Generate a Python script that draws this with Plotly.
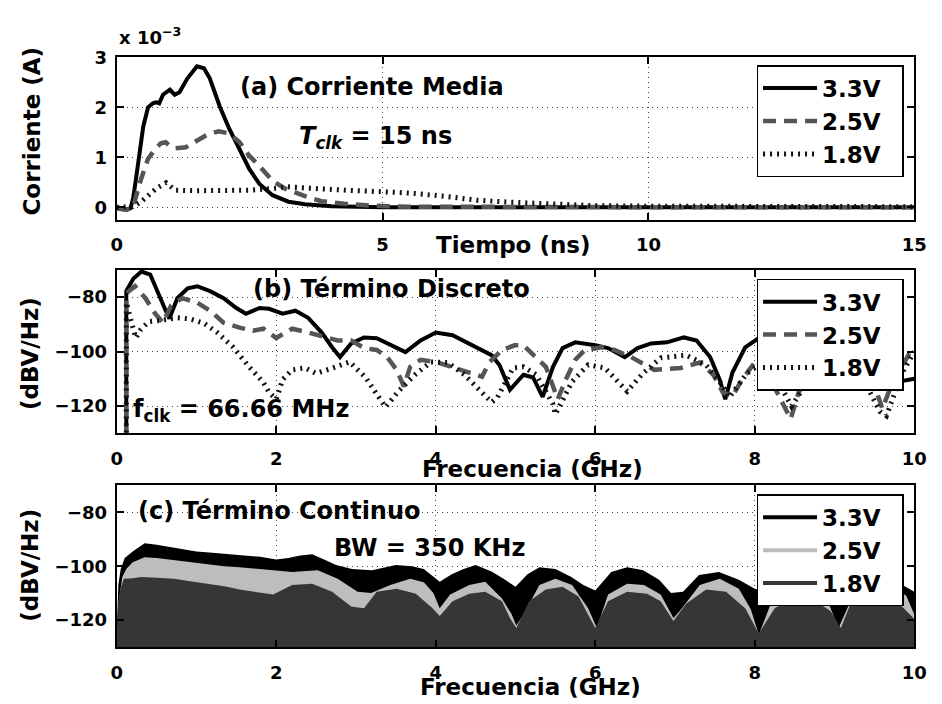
import plotly.graph_objects as go

W, H = 942, 704
FONT = "DejaVu Sans"

# ---------------- (a) Corriente media (x 1e-3 A) vs tiempo (ns)
t_33 = [0, 0.1, 0.2, 0.26, 0.31, 0.36, 0.41, 0.5, 0.59, 0.68, 0.74, 0.8, 0.87, 1.0, 1.09, 1.18, 1.33,
        1.51, 1.64, 1.75, 1.94, 2.12, 2.31, 2.49, 2.68, 2.93, 3.23, 3.54, 4.04, 4.5, 5, 6, 8, 10, 12, 15]
i_33 = [0, -0.03, -0.05, -0.02, 0.18, 0.55, 0.97, 1.62, 2.0, 2.08, 2.1, 2.08, 2.25, 2.35, 2.25, 2.3, 2.58,
        2.82, 2.78, 2.58, 2.01, 1.56, 1.16, 0.77, 0.47, 0.24, 0.11, 0.06, 0.02, 0.01, 0, 0, 0, 0, 0, 0]

t_25 = [0, 0.15, 0.3, 0.37, 0.46, 0.59, 0.72, 0.83, 0.92, 1.0, 1.1, 1.3, 1.5, 1.7, 1.92, 2.1, 2.2, 2.31,
        2.49, 2.68, 2.93, 3.17, 3.54, 3.85, 4.28, 4.78, 5.5, 7, 10, 12, 15]
i_25 = [-0.02, -0.05, -0.02, 0.24, 0.57, 0.97, 1.16, 1.28, 1.3, 1.22, 1.18, 1.2, 1.32, 1.45, 1.52, 1.48,
        1.4, 1.3, 1.03, 0.83, 0.53, 0.37, 0.22, 0.12, 0.07, 0.03, 0.01, 0, 0, 0, 0]

t_18 = [0, 0.3, 0.46, 0.6, 0.75, 0.93, 1.1, 1.5, 2.0, 2.5, 3.0, 3.2, 3.6, 4.0, 4.5, 4.99, 5.54, 6.16,
        6.77, 7.4, 8.0, 8.5, 9, 10, 12, 15]
i_18 = [0, 0.01, 0.11, 0.25, 0.38, 0.49, 0.34, 0.33, 0.33, 0.34, 0.38, 0.41, 0.38, 0.35, 0.33, 0.31,
        0.28, 0.22, 0.14, 0.1, 0.07, 0.05, 0.03, 0.02, 0.01, 0.01]

# ---------------- (b) Termino discreto (dBV/Hz) vs frecuencia (GHz)
fb_33 = [0.12, 0.12, 0.21, 0.31, 0.42, 0.52, 0.6, 0.66, 0.76, 0.89, 1.01, 1.17, 1.34, 1.5, 1.62, 1.79,
         1.91, 2.08, 2.24, 2.4, 2.57, 2.7, 2.8, 2.94, 3.1, 3.26, 3.43, 3.62, 3.81, 4.0, 4.21, 4.42, 4.6,
         4.7, 4.8, 4.93, 5.1, 5.22, 5.34, 5.47, 5.59, 5.75, 6.0, 6.16, 6.37, 6.53, 6.7, 6.9, 7.11, 7.27,
         7.44, 7.56, 7.63, 7.72, 7.88, 8.1, 8.4, 8.7, 9.0, 9.3, 9.55, 9.75, 9.9, 10]
db_33 = [-140, -77.8, -73.2, -70.6, -71.7, -78.9, -84, -87.9, -80.4, -76.8, -76, -77.8, -80.4, -84,
         -86.1, -84, -84.3, -86.1, -85, -87.6, -93, -98.4, -102, -97, -94.8, -95.1, -97.7, -100.2,
         -95.9, -93, -94, -97, -99.5, -101.3, -105, -114, -108.5, -109.5, -116.6, -105.6, -98.7, -96.6,
         -97.7, -98.7, -102, -98.7, -97, -96.6, -94.8, -95.9, -102, -110.3, -117.5, -107.7, -98.4, -94,
         -95, -98, -97, -101, -106, -111, -110.5, -110]

fb_25 = [0.12, 0.12, 0.23, 0.36, 0.48, 0.58, 0.68, 0.82, 1.01, 1.17, 1.34, 1.54, 1.71, 1.84, 2.0, 2.2,
         2.4, 2.61, 2.77, 2.94, 3.1, 3.26, 3.39, 3.51, 3.6, 3.68, 3.81, 4.0, 4.21, 4.42, 4.58, 4.67,
         4.83, 4.99, 5.1, 5.26, 5.38, 5.53, 5.63, 5.75, 5.87, 6.08, 6.24, 6.45, 6.58, 6.74, 7.07, 7.31,
         7.48, 7.6, 7.72, 7.84, 8.0, 8.21, 8.45, 8.55, 8.62, 8.9, 9.2, 9.45, 9.53, 9.6, 9.69, 9.78,
         9.94, 10]
db_25 = [-140, -78.6, -76, -80.4, -86, -89.4, -83.2, -80.4, -82, -85, -89.4, -91.2, -92.3, -91.6, -95,
         -91.6, -93, -94.8, -95.9, -95.9, -98.7, -99.4, -102, -106.7, -112.8, -105.6, -103, -103.8,
         -105.6, -107.7, -109.2, -104, -99.4, -97.7, -97.7, -102, -105.6, -117.5, -110.3, -103, -99.4,
         -98.4, -99.4, -102, -104, -106.7, -106, -104, -108.5, -115, -116.4, -110.3, -104, -111, -124.7,
         -115, -111.4, -103, -100, -108, -115, -121, -114, -109, -100.5, -101]

fb_18 = [0.12, 0.12, 0.18, 0.24, 0.3, 0.4, 0.55, 0.76, 0.92, 1.1, 1.26, 1.46, 1.66, 1.84, 1.91, 2.0,
         2.08, 2.2, 2.36, 2.5, 2.71, 2.92, 3.12, 3.37, 3.53, 3.74, 3.94, 4.15, 4.36, 4.52, 4.7, 4.77,
         4.97, 5.1, 5.26, 5.47, 5.5, 5.71, 5.91, 6.12, 6.33, 6.4, 6.58, 6.82, 7.14, 7.39, 7.56, 7.68,
         7.9, 8.1, 8.3, 8.46, 8.62, 8.9, 9.2, 9.41, 9.57, 9.65, 9.85, 9.98, 10]
db_18 = [-140, -82, -88.6, -95, -92, -89, -88.5, -87.6, -88, -89.7, -93, -98.4, -105.6, -111.4, -115,
         -117.5, -110.3, -106.7, -106, -108, -106, -103.8, -109.5, -120.4, -114.6, -108.5, -103.8, -104,
         -108.5, -113, -118.6, -117, -106, -105.6, -108.5, -119.3, -123, -111, -104.9, -106, -112,
         -114.6, -108.5, -102.3, -101.3, -104.9, -111, -116.8, -108, -104, -111.4, -120, -113, -104,
         -103, -113, -122, -123.6, -107.7, -100.5, -100]

# ---------------- (c) Termino continuo: envolvente superior (dBV/Hz)
fc_33 = [0, 0.02, 0.05, 0.1, 0.2, 0.35, 0.5, 0.7, 1.0, 1.2, 1.4, 1.6, 1.8, 2.0, 2.15, 2.3, 2.45, 2.6,
         2.75, 2.95, 3.2, 3.5, 3.7, 3.85, 4.05, 4.2, 4.35, 4.5, 4.7, 4.85, 5.0, 5.15, 5.3, 5.5, 5.7,
         5.85, 6.0, 6.2, 6.4, 6.6, 6.8, 6.95, 7.1, 7.3, 7.55, 7.8, 8.0, 8.2, 8.5, 8.8, 9.05, 9.3, 9.6,
         9.85, 10]
dc_33 = [-125, -107, -101, -97, -94.5, -91.5, -92, -93, -94.5, -95, -95.5, -96, -96.5, -97.5, -97, -96,
         -95.6, -97.5, -99.6, -101, -101.5, -99.6, -100, -101, -105.8, -103, -101, -99.6, -102, -104.7,
         -107.6, -103, -100.4, -101, -104, -107, -109, -102.2, -100.4, -101.5, -105, -110, -109.5,
         -103.3, -102.2, -105, -108.4, -110, -105, -106, -114, -106, -103, -107, -109.5]

fc_25 = [0, 0.03, 0.07, 0.12, 0.2, 0.35, 0.5, 0.72, 0.9, 1.13, 1.35, 1.54, 1.75, 1.95, 2.2, 2.52,
         2.77, 3.02, 3.19, 3.43, 3.68, 3.85, 3.97, 4.05, 4.18, 4.42, 4.62, 4.83, 4.95, 5.01, 5.1, 5.3,
         5.5, 5.71, 5.91, 6.02, 6.16, 6.4, 6.61, 6.82, 6.98, 7.06, 7.31, 7.56, 7.8, 7.95, 8.05, 8.2,
         8.4, 8.7, 8.9, 9.05, 9.2, 9.45, 9.7, 9.9, 10]
dc_25 = [-130, -112, -104, -101, -98.5, -96.7, -97, -97.8, -98.5, -99.3, -100, -100.4, -101, -101.5,
         -102.2, -101.5, -104.7, -109.5, -110, -107, -104.7, -106, -110, -115.6, -110.5, -107, -105.8,
         -112, -117.8, -122, -118, -107, -104.7, -107, -115.6, -123, -110.5, -106.5, -107, -110.5,
         -119.3, -116.7, -107, -104.7, -108.4, -116, -125.5, -114, -108, -107, -112, -123, -113, -108,
         -107, -111, -118]

fc_18 = [0, 0.02, 0.05, 0.09, 0.2, 0.31, 0.5, 0.72, 0.9, 1.13, 1.35, 1.54, 1.75, 1.96, 2.2, 2.45, 2.7,
         2.94, 3.1, 3.26, 3.51, 3.75, 3.96, 4.05, 4.21, 4.42, 4.62, 4.83, 4.93, 5.01, 5.17, 5.38, 5.59,
         5.79, 6.0, 6.16, 6.4, 6.65, 6.82, 6.98, 7.14, 7.39, 7.64, 7.88, 8.05, 8.25, 8.46, 8.71, 8.95,
         9.08, 9.2, 9.48, 9.78, 9.98, 10]
dc_18 = [-130, -113, -108, -104.7, -104.5, -104, -104.3, -104.7, -105.5, -106.5, -107.5, -108.7, -109.5,
         -110.5, -107, -106.5, -109.5, -115, -115.6, -109.5, -108.4, -110.2, -115.6, -118.5, -113,
         -110.2, -109.5, -113, -119.3, -123, -113, -108.7, -107.6, -111.3, -123, -113, -109.5, -110.2,
         -113, -120.4, -114, -108.7, -109.5, -115.6, -125, -115.6, -112, -112, -116.7, -123, -114, -112,
         -113, -119, -120]

labels = ["3.3V", "2.5V", "1.8V"]
C_FLOOR = -135
PAD = "\u00a0\u00a0"

fig = go.Figure()

solid = dict(color="black", width=4)
dashed = dict(color="#555555", width=4.5, dash="13px,8px")
dotted = dict(color="#111111", width=5, dash="2px,5px")

# (a)
for (x, y, ln, lab) in [(t_33, i_33, solid, labels[0]), (t_25, i_25, dashed, labels[1]),
                        (t_18, i_18, dotted, labels[2])]:
    fig.add_trace(go.Scatter(x=x, y=y, mode="lines", line=ln, name=lab + PAD, xaxis="x", yaxis="y",
                             legend="legend"))
# (b)
for (x, y, ln, lab) in [(fb_33, db_33, solid, labels[0]), (fb_25, db_25, dashed, labels[1]),
                        (fb_18, db_18, dotted, labels[2])]:
    fig.add_trace(go.Scatter(x=x, y=y, mode="lines", line=ln, name=lab + PAD, xaxis="x2", yaxis="y2",
                             legend="legend2"))
# (c) filled envelopes
c_cols = ["#000000", "#bdbdbd", "#363636"]
for (x, y, col) in [(fc_33, dc_33, c_cols[0]), (fc_25, dc_25, c_cols[1]), (fc_18, dc_18, c_cols[2])]:
    fig.add_trace(go.Scatter(x=x + [x[-1], x[0]], y=y + [C_FLOOR, C_FLOOR], mode="lines", fill="toself",
                             fillcolor=col, line=dict(width=0, color=col), showlegend=False,
                             xaxis="x3", yaxis="y3", hoverinfo="skip"))
for lab, col in zip(labels, c_cols):
    fig.add_trace(go.Scatter(x=[None], y=[None], mode="lines", line=dict(color=col, width=4), name=lab + PAD,
                             xaxis="x3", yaxis="y3", legend="legend3"))


def X(p):
    return p / W


def Y(p):
    return 1 - p / H


tickfont = dict(family=FONT, size=18, color="black", weight="bold")
ax = dict(showline=True, linecolor="black", linewidth=2, mirror="ticks", ticks="inside", ticklen=7,
          tickwidth=2, tickcolor="black", showgrid=True, gridcolor="#444444", griddash="1px,4px",
          gridwidth=1, zeroline=False, tickfont=tickfont)
xd = [X(113), X(927)]

fig.update_layout(
    width=W, height=H, margin=dict(l=0, r=0, t=0, b=0), plot_bgcolor="white", paper_bgcolor="white",
    xaxis=dict(ax, domain=xd, anchor="y", range=[0, 15], tickvals=[0, 5, 10, 15], ticklabelstandoff=8),
    yaxis=dict(ax, domain=[Y(212), Y(47)], anchor="x", range=[-0.25, 3], tickvals=[0, 1, 2, 3],
               ticklabelstandoff=4),
    xaxis2=dict(ax, domain=xd, anchor="y2", range=[0, 10], tickvals=[0, 2, 4, 6, 8, 10], ticklabelstandoff=8),
    yaxis2=dict(ax, domain=[Y(429), Y(263)], anchor="x2", range=[-130, -70], tickvals=[-120, -100, -80],
                ticklabelstandoff=4),
    xaxis3=dict(ax, domain=xd, anchor="y3", range=[0, 10], tickvals=[0, 2, 4, 6, 8, 10], ticklabelstandoff=8),
    yaxis3=dict(ax, domain=[Y(646), Y(482)], anchor="x3", range=[-130, -70], tickvals=[-120, -100, -80],
                ticklabelstandoff=4),
    showlegend=True,
)

legfont = dict(family=FONT, size=23, color="black", weight="bold")
for name, top in [("legend", 55), ("legend2", 272), ("legend3", 491)]:
    fig.update_layout({name: dict(x=X(766), y=Y(top), xanchor="left", yanchor="top", bgcolor="white",
                                  bordercolor="black", borderwidth=1.5, font=legfont, itemwidth=54)})

annfont = dict(family=FONT, size=24, color="black", weight="bold")
titlefont = dict(family=FONT, size=23, color="black", weight="bold")
anns = [
    ("(a) Corriente Media", 237, 77, "left", 0, annfont),
    ("<i>T</i><sub><i>clk</i></sub> = 15 ns", 297, 128, "left", 0, annfont),
    ("(b) Término Discreto", 250, 282, "left", 0, annfont),
    ("f<sub>clk</sub> = 66.66 MHz", 128, 406, "left", 0, annfont),
    ("(c) Término Continuo", 133, 508, "left", 0, annfont),
    ("BW = 350 KHz", 333, 546, "left", 0, annfont),
    ("x 10<sup>−3</sup>", 113, 25, "left", 0, dict(family=FONT, size=18, color="black", weight="bold")),
    ("Corriente (A)", 27, 122, "center", -90, titlefont),
    ("(dBV/Hz)", 24, 348, "center", -90, titlefont),
    ("(dBV/Hz)", 25, 563, "center", -90, titlefont),
    ("Tiempo (ns)", 518, 238, "center", 0, titlefont),
    ("Frecuencia (GHz)", 537, 465, "center", 0, titlefont),
    ("Frecuencia (GHz)", 535, 687, "center", 0, titlefont),
]
for txt, x, y, xa, ang, f in anns:
    fig.add_annotation(text=txt, x=X(x), y=Y(y), xref="paper", yref="paper", xanchor=xa, yanchor="middle",
                       showarrow=False, textangle=ang, font=f)

fig.write_html("out.html",
               post_script="document.body.style.margin='0px';document.body.style.overflow='hidden';")
